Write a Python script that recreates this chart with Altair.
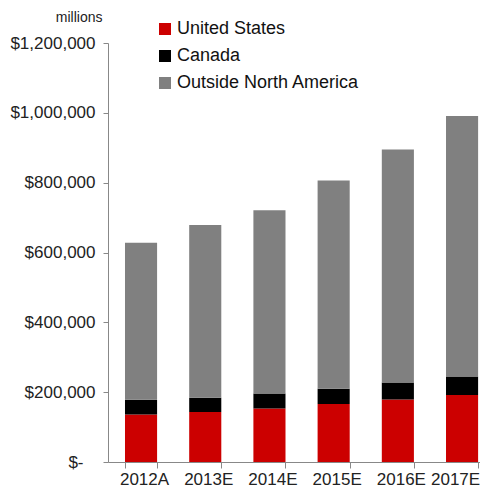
import altair as alt
import pandas as pd

years = ["2012A", "2013E", "2014E", "2015E", "2016E", "2017E"]
series = ["United States", "Canada", "Outside North America"]
us = [136000, 143000, 153000, 166000, 179000, 192000]
canada = [42000, 41000, 43000, 44000, 49000, 53000]
outside = [450000, 495000, 525000, 596000, 667000, 746000]
colors = ["#cc0000", "#000000", "#808080"]
y_ticks = [0, 200000, 400000, 600000, 800000, 1000000, 1200000]

rows = []
for i, yr in enumerate(years):
    for k, (s, vals) in enumerate(zip(series, [us, canada, outside])):
        rows.append({"year": yr, "series": s, "value": vals[i], "order": k})
df = pd.DataFrame(rows)

FONT = "Liberation Sans"

chart = alt.Chart(df).mark_bar().encode(
    x=alt.X(
        "year:N",
        sort=years,
        scale=alt.Scale(paddingInner=0.5, paddingOuter=0.147, align=0.9),
        axis=alt.Axis(
            title=None, labelAngle=0, tickBand="extent", tickSize=6,
            labelFont=FONT, labelFontSize=17, labelColor="#222222",
            labelPadding=3,
            labelOffset={"condition": {"test": "datum.value == '2017E'", "value": -7}, "value": 3},
            domainColor="#888888", tickColor="#888888",
            grid=False,
        ),
    ),
    y=alt.Y(
        "value:Q",
        stack="zero",
        scale=alt.Scale(domain=[0, 1200000], nice=False),
        axis=alt.Axis(
            values=y_ticks,
            labelExpr="datum.value == 0 ? '$-' : '$' + format(datum.value, ',')",
            title="millions", titleAngle=0, titleAlign="right",
            titleBaseline="alphabetic", titleX=-6, titleY=-22,
            titleFont=FONT, titleFontSize=14, titleFontWeight="normal",
            titleColor="#222222",
            labelFont=FONT, labelFontSize=17, labelColor="#222222",
            labelPadding={"condition": {"test": "datum.value == 0", "value": 20}, "value": 8},
            tickSize=5, grid=False,
            domainColor="#888888", tickColor="#888888",
        ),
    ),
    color=alt.Color(
        "series:N",
        scale=alt.Scale(domain=series, range=colors),
        legend=alt.Legend(
            title=None, orient="none", legendX=48, legendY=-23,
            symbolType="square", symbolSize=144, symbolStrokeWidth=0,
            labelFont=FONT, labelFontSize=18, labelColor="#111111",
            rowPadding=9, labelOffset=3, padding=0, labelLimit=400,
        ),
    ),
    order=alt.Order("order:Q", sort="ascending"),
).properties(
    width=372,
    height=419,
    autosize=alt.AutoSizeParams(type="none"),
    padding={"left": 100, "top": 35, "right": 0, "bottom": 28},
).configure_view(stroke=None)

chart.save("out.html", embed_options={"renderer": "svg", "actions": False})
